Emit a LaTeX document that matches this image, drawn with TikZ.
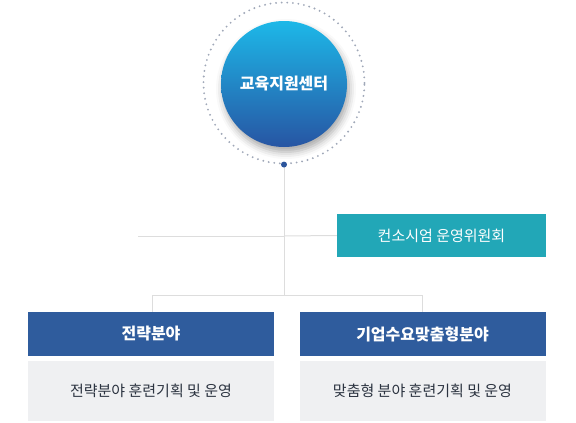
\documentclass[tikz,border=0pt]{standalone}
\usepackage{fontspec}
\setmainfont{Noto Sans CJK KR}
\usetikzlibrary{shadows.blur}
\definecolor{hubtop}{HTML}{1DB8E8}
\definecolor{hubmid}{HTML}{2382C8}
\definecolor{hubbottom}{HTML}{2755A3}
\definecolor{ringcol}{HTML}{A0A8B8}
\definecolor{dotcol}{HTML}{2C559C}
\definecolor{linecol}{HTML}{DDDDDD}
\definecolor{teal}{HTML}{22A7B7}
\definecolor{headblue}{HTML}{2F5C9D}
\definecolor{paneback}{HTML}{EFF0F2}
\definecolor{panetext}{HTML}{2B3340}
\tikzset{
  hub/.style={circle, minimum size=126pt, inner sep=0pt, top color=hubtop,
    middle color=hubmid, bottom color=hubbottom, text=white,
    font=\fontsize{16}{19}\selectfont\bfseries,
    blur shadow={shadow xshift=2pt, shadow yshift=-5pt, shadow blur radius=7pt, shadow opacity=35}},
  ring/.style={circle, minimum size=161pt, inner sep=0pt, draw=ringcol,
    line width=2.1pt, line cap=round, dash pattern=on 0pt off 5.6pt},
  dot/.style={circle, fill=dotcol, minimum size=6pt, inner sep=0pt},
  link/.style={draw=linecol, line width=1pt},
  committee/.style={fill=teal, text=white, minimum width=209pt, minimum height=43pt,
    inner sep=0pt, font=\fontsize{15}{18}\selectfont},
  header/.style={fill=headblue, text=white, minimum width=246pt, minimum height=44pt,
    inner sep=0pt, font=\fontsize{16}{19}\selectfont\bfseries},
  pane/.style={fill=paneback, text=panetext, minimum width=246pt, minimum height=60pt,
    inner sep=0pt, font=\fontsize{15}{18}\selectfont}
}
\begin{document}
\begin{tikzpicture}[x=1pt, y=-1pt]
  \useasboundingbox (0,0) rectangle (576,423);
  % centre
  \node[ring] (ring) at (284,83) {};
  \node[hub] (hub) at (284,84) {교육지원센터};
  % lines
  \coordinate (branch) at (284,295);
  \coordinate (side) at (138,236);
  \coordinate (leftdrop) at (152,295);
  \coordinate (rightdrop) at (422,295);
  \draw[link] (ring.south) -- (branch);
  \draw[link] (side) -- (284,236);
  \draw[link] (leftdrop) -- (rightdrop);
  % committee
  \node[committee] (committee) at (441.5,235.5) {컨소시엄 운영위원회};
  \draw[link] (284,236) -- (committee.west);
  % fields
  \node[header] (strategy) at (151,334) {전략분야};
  \node[header] (custom) at (422.5,334) {기업수요맞춤형분야};
  \node[pane] (strategyplan) at (151,391) {전략분야 훈련기획 및 운영};
  \node[pane] (customplan) at (422.5,391) {맞춤형 분야 훈련기획 및 운영};
  \draw[link] (leftdrop) -- (strategy.north -| leftdrop);
  \draw[link] (rightdrop) -- (custom.north -| rightdrop);
  \node[dot] (dot) at (ring.south) {};
\end{tikzpicture}
\end{document}
